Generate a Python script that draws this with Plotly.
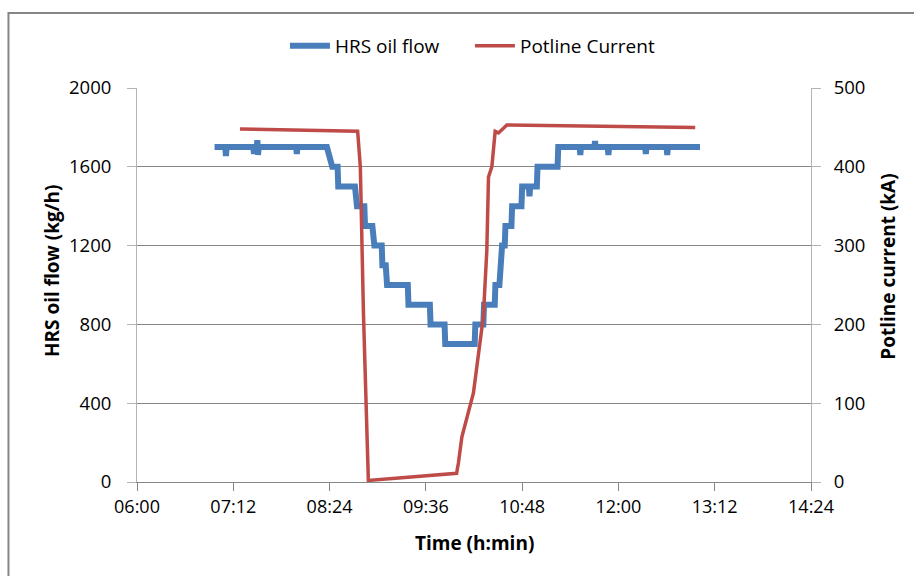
import pandas as pd
import plotly.graph_objects as go

# ---------------- data ----------------
flow_time = ["06:58:00", "07:06:00", "07:06:30", "07:07:00", "07:27:00", "07:27:30", "07:28:00",
             "07:29:30", "07:30:00", "07:30:30", "07:31:00", "07:59:00", "07:59:30", "08:00:00",
             "08:22:00", "08:26:00", "08:30:00", "08:30:30", "08:43:00", "08:44:30", "08:50:00",
             "08:50:30", "08:56:00", "08:57:30", "09:03:00", "09:03:30", "09:06:00", "09:07:00",
             "09:22:30", "09:23:00", "09:39:00", "09:39:30", "09:50:00", "09:50:30", "10:12:30",
             "10:13:00", "10:19:00", "10:19:30", "10:27:30", "10:28:00", "10:31:00", "10:31:30",
             "10:32:30", "10:33:00", "10:35:00", "10:35:30", "10:40:00", "10:40:30", "10:47:30",
             "10:48:00", "10:53:00", "10:53:30", "10:54:00", "10:59:00", "10:59:30", "11:14:30",
             "11:15:00", "11:31:00", "11:31:30", "11:32:00", "11:42:00", "11:42:30", "11:43:00",
             "11:52:00", "11:52:30", "11:53:00", "12:20:00", "12:20:30", "12:21:00", "12:36:00",
             "12:36:30", "12:37:00", "13:01:00"]
flow_kgh = [1700, 1700, 1655, 1700, 1700, 1665, 1700,
            1700, 1735, 1660, 1700, 1700, 1665, 1700,
            1700, 1600, 1600, 1500, 1500, 1400, 1400,
            1300, 1300, 1200, 1200, 1100, 1100, 1000,
            1000, 900, 900, 800, 800, 700, 700,
            800, 800, 900, 900, 1000, 1000, 1100,
            1100, 1200, 1200, 1300, 1300, 1400, 1400,
            1500, 1500, 1450, 1500, 1500, 1600, 1600,
            1700, 1700, 1660, 1700, 1700, 1730, 1700,
            1700, 1660, 1700, 1700, 1665, 1700, 1700,
            1660, 1700, 1700]

current_time = ["07:17:00", "08:45:00", "08:47:00", "08:49:20", "08:53:00", "09:59:00",
                "10:00:20", "10:02:55", "10:11:35", "10:19:00", "10:21:35", "10:22:50",
                "10:25:20", "10:26:30", "10:27:50", "10:30:20", "10:36:35", "12:57:25"]
current_kA = [448, 445, 400, 214, 2, 11,
              24, 57, 113, 210, 294, 387,
              400, 421, 445, 443, 453, 450]

x_ticks = ["06:00", "07:12", "08:24", "09:36", "10:48", "12:00", "13:12", "14:24"]

DAY = "2000-01-01 "
to_dt = lambda lst: pd.to_datetime([DAY + t for t in lst])

BLUE = "#4A7EBB"
RED = "#BE4B48"
GRID = "#868686"
AXIS = "#B3B3B3"
FONT = "'Open Sans', sans-serif"

fig = go.Figure()
fig.add_trace(go.Scatter(x=to_dt(flow_time), y=flow_kgh, name="HRS oil flow",
                         mode="lines", line=dict(color=BLUE, width=6)))
fig.add_trace(go.Scatter(x=to_dt(current_time), y=current_kA, name="Potline Current",
                         mode="lines", line=dict(color=RED, width=3.5), yaxis="y2"))

tickvals = to_dt(x_ticks)
fig.update_layout(
    width=914, height=576,
    margin=dict(l=137, r=103, t=88, b=94),
    paper_bgcolor="white", plot_bgcolor="white",
    font=dict(family=FONT, size=18, color="#000000"),
    showlegend=True,
    legend=dict(orientation="h", x=0.494, xanchor="center", y=1.107, yanchor="middle",
                font=dict(size=19), bgcolor="rgba(0,0,0,0)",
                itemwidth=40, entrywidth=130, entrywidthmode="pixels"),
    xaxis=dict(type="date", range=[tickvals[0], tickvals[-1]], tickvals=tickvals,
               ticktext=x_ticks, showgrid=False, showline=True, linecolor=GRID,
               linewidth=1, ticks="outside", ticklen=8, tickcolor=GRID,
               tickfont=dict(size=18), zeroline=False),
    yaxis=dict(range=[0, 2000], dtick=400, tick0=0, showgrid=True, gridcolor=GRID,
               gridwidth=1, showline=True, linecolor=AXIS, linewidth=1, ticks="outside",
               ticklen=9, tickcolor=AXIS, tickfont=dict(size=18.5), zeroline=False,
               ticklabelstandoff=12),
    yaxis2=dict(range=[0, 500], dtick=100, tick0=0, overlaying="y", side="right",
                showgrid=False, showline=True, linecolor=AXIS, linewidth=1,
                ticks="outside", ticklen=9, tickcolor=AXIS, tickfont=dict(size=18.5),
                zeroline=False, ticklabelstandoff=9),
    shapes=[dict(type="rect", xref="paper", yref="paper",
                 x0=-0.1907, x1=1.25, y0=-0.4, y1=1.1904,
                 line=dict(color=GRID, width=2), fillcolor="rgba(0,0,0,0)", layer="below")],
    annotations=[
        dict(text="<b>HRS oil flow (kg/h)</b>", xref="paper", yref="paper",
             x=-0.126, y=0.5355, textangle=-90, showarrow=False,
             font=dict(size=19), xanchor="center", yanchor="middle"),
        dict(text="<b>Potline current (kA)</b>", xref="paper", yref="paper",
             x=1.114, y=0.546, textangle=-90, showarrow=False,
             font=dict(size=19), xanchor="center", yanchor="middle"),
        dict(text="<b>Time (h:min)</b>", xref="paper", yref="paper",
             x=0.5, y=-0.155, showarrow=False,
             font=dict(size=19), xanchor="center", yanchor="middle"),
    ],
)

fig.write_html("out.html")
